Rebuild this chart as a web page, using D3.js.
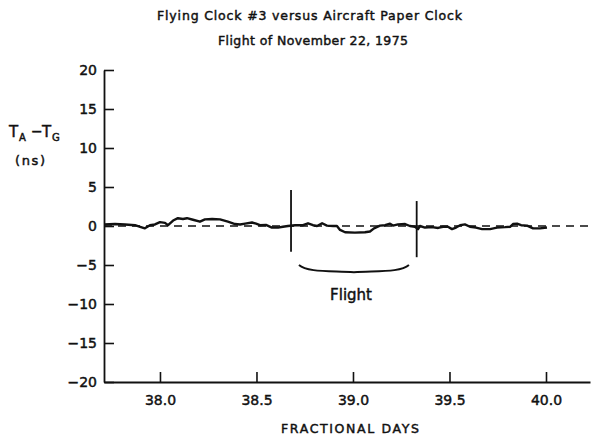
<!DOCTYPE html>
<html>
<head>
<meta charset="utf-8">
<script src="https://cdn.jsdelivr.net/npm/d3@7"></script>
<style>
  body { margin: 0; background: #fff; }
  svg { display: block; }
  text { font-family: "DejaVu Sans", sans-serif; fill: #111; stroke: #111; stroke-width: 0.45px; }
</style>
</head>
<body>
<svg id="chart" width="594" height="438"></svg>
<script>
// Time offset of the flying clock against the aircraft paper clock (ns)
const days = [
  37.710, 37.767, 37.819, 37.871, 37.897, 37.922, 37.948, 37.974, 38.000, 38.026,
  38.042, 38.068, 38.093, 38.119, 38.140, 38.171, 38.207, 38.233, 38.270, 38.311,
  38.352, 38.389, 38.415, 38.441, 38.477, 38.498, 38.518, 38.549, 38.580, 38.612,
  38.637, 38.663, 38.700, 38.741, 38.767, 38.793, 38.814, 38.840, 38.865, 38.897,
  38.917, 38.933, 38.959, 39.010, 39.062, 39.088, 39.109, 39.140, 39.166, 39.192,
  39.207, 39.233, 39.270, 39.295, 39.321, 39.337, 39.347, 39.373, 39.409, 39.441,
  39.466, 39.492, 39.513, 39.534, 39.555, 39.580, 39.606, 39.637, 39.669, 39.710,
  39.746, 39.788, 39.814, 39.829, 39.850, 39.871, 39.902, 39.933, 39.969, 40.005
];
const offsetNs = [
  0.20, 0.25, 0.20, 0.10, -0.10, -0.30, 0.10, 0.20, 0.50, 0.40,
  0.10, 0.70, 1.00, 0.90, 1.00, 0.80, 0.55, 0.85, 0.90, 0.85,
  0.55, 0.25, 0.20, 0.30, 0.45, 0.30, 0.10, 0.15, -0.20, -0.20,
  -0.10, 0.00, 0.10, 0.10, 0.35, 0.10, 0.00, 0.35, 0.05, 0.00,
  0.00, -0.50, -0.80, -0.85, -0.80, -0.70, -0.30, 0.05, 0.10, 0.30,
  0.05, 0.20, 0.25, 0.00, -0.10, -0.40, 0.00, -0.20, -0.15, -0.25,
  -0.10, -0.10, -0.40, -0.20, 0.10, 0.20, -0.10, -0.20, -0.40, -0.40,
  -0.20, -0.15, -0.10, 0.25, 0.30, 0.10, 0.05, -0.30, -0.30, -0.20
];

const yTicks = [-20, -15, -10, -5, 0, 5, 10, 15, 20];
const xTicks = [38.0, 38.5, 39.0, 39.5, 40.0];

// Take-off and landing markers: [day, top ns, bottom ns]
const flightMarkers = [[38.679, 4.6, -3.3], [39.33, 3.2, -4.0]];
const braceSpan = [38.72, 39.29];

const titleLines = ["Flying Clock #3 versus Aircraft Paper Clock", "Flight of November 22, 1975"];
const xTitle = "FRACTIONAL  DAYS";
const flightLabel = "Flight";

const svg = d3.select("#chart");

const x = d3.scaleLinear().domain([37.71, 40.228]).range([104, 590]);
const y = d3.scaleLinear().domain([-20, 20]).range([382, 70]);

// Titles
svg.append("text").attr("x", 157).attr("y", 20).attr("font-size", 12.5)
  .attr("textLength", 305).attr("lengthAdjust", "spacing").text(titleLines[0]);
svg.append("text").attr("x", 218).attr("y", 45).attr("font-size", 12.5)
  .attr("textLength", 190).attr("lengthAdjust", "spacing").text(titleLines[1]);

// Zero reference
svg.append("line")
  .attr("x1", x(37.71)).attr("x2", x(40.24))
  .attr("y1", y(0)).attr("y2", y(0))
  .attr("stroke", "#111").attr("stroke-width", 1.5)
  .attr("stroke-dasharray", "8,6");

// Axes
const yAxis = d3.axisLeft(y).tickValues(yTicks).tickSize(-10).tickSizeOuter(0)
  .tickPadding(7).tickFormat(d3.format("d"));
const gy = svg.append("g").attr("transform", `translate(${x(37.71)},0)`).call(yAxis);

const xAxis = d3.axisBottom(x).tickValues(xTicks).tickSize(-10).tickSizeOuter(0)
  .tickPadding(13).tickFormat(d3.format(".1f"));
const gx = svg.append("g").attr("transform", `translate(0,${y(-20)})`).call(xAxis);

[gx, gy].forEach(g => {
  g.select(".domain").attr("stroke", "#111").attr("stroke-width", 1.8);
  g.selectAll(".tick line").attr("stroke", "#111").attr("stroke-width", 1.6);
  g.selectAll(".tick text").attr("font-size", 14).attr("fill", "#111")
    .attr("font-family", "DejaVu Sans, sans-serif");
});

// Data trace
const line = d3.line().x((d, i) => x(days[i])).y(d => y(d));
svg.append("path")
  .attr("d", line(offsetNs))
  .attr("fill", "none").attr("stroke", "#111")
  .attr("stroke-width", 2.4).attr("stroke-linejoin", "round");

// Take-off / landing markers
svg.selectAll(".marker").data(flightMarkers).enter().append("line")
  .attr("class", "marker")
  .attr("x1", d => x(d[0])).attr("x2", d => x(d[0]))
  .attr("y1", d => y(d[1])).attr("y2", d => y(d[2]))
  .attr("stroke", "#111").attr("stroke-width", 1.8);

// Brace under the flight interval
const xs = x(braceSpan[0]), xe = x(braceSpan[1]), xm = (xs + xe) / 2;
const yTip = y(-5.0), yBody = y(-5.8);
svg.append("path")
  .attr("d", `M${xs},${yTip} C${xs + 8},${yBody + 1} ${xm - 25},${yBody - 0.5} ${xm},${yBody + 1}
              C${xm + 25},${yBody - 0.5} ${xe - 8},${yBody + 1} ${xe},${yTip}`)
  .attr("fill", "none").attr("stroke", "#111").attr("stroke-width", 1.8);

svg.append("text").attr("x", x(38.99)).attr("y", y(-9.55))
  .attr("text-anchor", "middle").attr("font-size", 15).text(flightLabel);

// Axis titles
svg.append("text").attr("x", 281).attr("y", 433).attr("font-size", 12.5)
  .attr("textLength", 138).attr("lengthAdjust", "spacing").text(xTitle);

const yl = svg.append("g");
yl.append("text").attr("x", 9).attr("y", 137).attr("font-size", 15).text("T");
yl.append("text").attr("x", 19).attr("y", 141).attr("font-size", 10).text("A");
yl.append("text").attr("x", 31).attr("y", 136).attr("font-size", 14).text("−");
yl.append("text").attr("x", 42).attr("y", 137).attr("font-size", 15).text("T");
yl.append("text").attr("x", 52).attr("y", 141).attr("font-size", 10).text("G");
yl.append("text").attr("x", 15).attr("y", 165).attr("font-size", 13)
  .attr("textLength", 30).attr("lengthAdjust", "spacing").text("(ns)");
</script>
</body>
</html>
